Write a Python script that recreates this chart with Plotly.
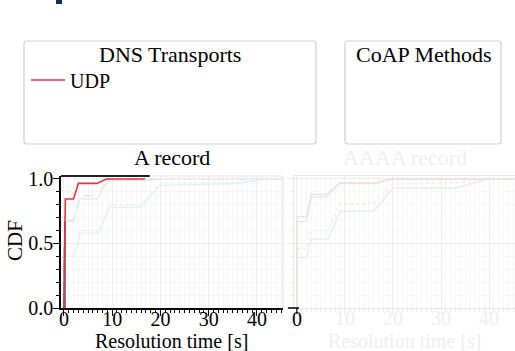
import plotly.graph_objects as go

W, H = 515, 351
FONT = "Liberation Serif"

# ---------------- data ----------------
# A record panel
udp_x = [0.0, 0.3, 2.0, 3.0, 6.9, 8.8, 16.8]
udp_y = [0.0, 0.845, 0.845, 0.966, 0.966, 1.0, 1.0]

a_grey_x = [0.2, 0.2, 2.0, 3.3, 6.9, 9.0, 18.0, 21.0, 45.4]
a_grey_y = [0.0, 0.67, 0.67, 0.845, 0.845, 0.985, 0.99, 1.0, 1.0]
a_greyd_x = [0.2, 0.2, 2.0, 3.3, 6.9, 9.0, 18.0, 21.0, 45.4]
a_greyd_y = [0.0, 0.68, 0.68, 0.87, 0.87, 0.99, 0.995, 1.0, 1.0]
a_cyan1_x = [0.2, 0.2, 2.1, 3.4, 7.2, 9.5, 15.8, 19.9, 36.0, 42.0, 45.4]
a_cyan1_y = [0.0, 0.42, 0.42, 0.6, 0.6, 0.8, 0.8, 0.96, 0.975, 1.0, 1.0]
a_cyan2_x = [0.2, 0.2, 2.1, 3.4, 7.2, 9.5, 15.8, 19.9, 36.0, 42.0, 45.4]
a_cyan2_y = [0.0, 0.4, 0.4, 0.58, 0.58, 0.78, 0.78, 0.95, 0.965, 1.0, 1.0]

fast_heights = [0.67, 0.48, 0.42, 0.2, 0.06]
fast_colors = ["#3a2470", "#3b7dc4", "#8cc9a0", "#59b7b0", "#2f6fb5"]
fast_x = [0.2, 0.12, 0.1, 0.08, 0.05]

# AAAA record panel (faded)
b_pink_x = [0.0, 0.0, 2.0, 3.0, 6.1, 8.9, 16.4, 19.2, 45.4]
b_pink_y = [0.0, 0.71, 0.71, 0.88, 0.88, 0.97, 0.97, 1.0, 1.0]
b_grey_x = [0.0, 0.0, 2.0, 3.0, 6.1, 8.9, 16.4, 19.2, 45.4]
b_grey_y = [0.0, 0.67, 0.67, 0.86, 0.86, 0.965, 0.965, 0.995, 1.0]
b_orng_x = [0.0, 0.0, 2.0, 3.0, 6.5, 9.0, 16.0, 20.0, 33.0, 40.0, 45.4]
b_orng_y = [0.0, 0.46, 0.46, 0.6, 0.6, 0.81, 0.81, 0.96, 0.97, 1.0, 1.0]
b_blue_x = [0.0, 0.0, 2.0, 3.0, 6.5, 9.0, 16.0, 20.0, 33.0, 40.0, 45.4]
b_blue_y = [0.0, 0.39, 0.39, 0.536, 0.536, 0.75, 0.75, 0.93, 0.93, 1.0, 1.0]

x_ticks = [0, 10, 20, 30, 40]
x_ticktext = ["0", "10", "20", "30", "40"]
x2_ticktext = ["", "10", "20", "30", "40"]
y_ticks = [0.0, 0.5, 1.0]
y_ticktext = ["0.0", "0.5", "1.0"]

X_RANGE = [-0.6, 45.4]
Y_RANGE = [0.0, 1.023]


def px(x):
    return x / W


def py(y):
    return 1 - y / H


fig = go.Figure()

# faded series, A record
fig.add_trace(go.Scatter(x=a_cyan2_x, y=a_cyan2_y, mode="lines", line=dict(color="#e3eff3", width=1.3), xaxis="x", yaxis="y"))
fig.add_trace(go.Scatter(x=a_cyan1_x, y=a_cyan1_y, mode="lines", line=dict(color="#e6f1f3", width=1.3, dash="dot"), xaxis="x", yaxis="y"))
fig.add_trace(go.Scatter(x=a_greyd_x, y=a_greyd_y, mode="lines", line=dict(color="#e4e4e4", width=1.3, dash="dash"), xaxis="x", yaxis="y"))
fig.add_trace(go.Scatter(x=a_grey_x, y=a_grey_y, mode="lines", line=dict(color="#e8e8e8", width=1.3), xaxis="x", yaxis="y"))

# fast (near zero) series
for fx, h, c in zip(fast_x, fast_heights, fast_colors):
    fig.add_trace(go.Scatter(x=[fx, fx], y=[0, h], mode="lines", line=dict(color=c, width=1.5), xaxis="x", yaxis="y"))

# UDP
fig.add_trace(go.Scatter(x=udp_x, y=udp_y, mode="lines", line=dict(color="#e8323c", width=1.6), xaxis="x", yaxis="y"))

# AAAA record faded series
fig.add_trace(go.Scatter(x=b_blue_x, y=b_blue_y, mode="lines", line=dict(color="#e2ecf4", width=1.3), xaxis="x2", yaxis="y2"))
fig.add_trace(go.Scatter(x=b_orng_x, y=b_orng_y, mode="lines", line=dict(color="#f6e8da", width=1.3, dash="dot"), xaxis="x2", yaxis="y2"))
fig.add_trace(go.Scatter(x=b_grey_x, y=b_grey_y, mode="lines", line=dict(color="#e6e6e6", width=1.3), xaxis="x2", yaxis="y2"))
fig.add_trace(go.Scatter(x=b_pink_x, y=b_pink_y, mode="lines", line=dict(color="#f2dddd", width=1.3), xaxis="x2", yaxis="y2"))

tick_font = dict(family=FONT, size=20, color="black")
faint_font = dict(family=FONT, size=20, color="#eeeeee")

common_x = dict(
    range=X_RANGE, tickvals=x_ticks, ticks="outside", ticklen=6, tickwidth=1.2,
    showgrid=True, gridcolor="#ececec", gridwidth=1, zeroline=False, automargin=False,
    ticklabelstandoff=-14,
)
common_y = dict(
    range=Y_RANGE, tickvals=y_ticks, ticktext=y_ticktext, ticks="outside", ticklen=6, tickwidth=1.2,
    showgrid=True, gridcolor="#ececec", gridwidth=1, zeroline=False, automargin=False,
    ticklabelstandoff=-4,
)

y_dom = [py(308), py(176)]

fig.update_layout(
    width=W, height=H, margin=dict(l=0, r=0, t=0, b=0, pad=0), autosize=False,
    paper_bgcolor="white", plot_bgcolor="white", showlegend=False,
    xaxis=dict(domain=[px(61), px(283)], anchor="y", tickfont=tick_font, tickcolor="black",
               ticktext=x_ticktext, showline=True, linecolor="black", linewidth=1.5,
               minor=dict(dtick=1, ticks="outside", ticklen=3, tickcolor="black", showgrid=True, gridcolor="#f5f5f5"),
               **common_x),
    yaxis=dict(domain=y_dom, anchor="x", tickfont=tick_font, tickcolor="black",
               showline=True, linecolor="black", linewidth=1.5,
               minor=dict(dtick=0.1, ticks="outside", ticklen=3, tickcolor="black", showgrid=True, gridcolor="#f5f5f5"),
               **common_y),
    xaxis2=dict(domain=[px(294), 1.0], anchor="y2", tickfont=faint_font, tickcolor="#e8e8e8",
                ticktext=x2_ticktext, showline=True, linecolor="#e6e6e6", linewidth=1.2, mirror=True,
                minor=dict(dtick=1, ticks="outside", ticklen=3, tickcolor="#e8e8e8", showgrid=True, gridcolor="#f7f7f7"),
                **common_x),
    yaxis2=dict(domain=y_dom, anchor="x2", showticklabels=False, tickcolor="#e8e8e8",
                showline=True, linecolor="#e6e6e6", linewidth=1.2, mirror=True,
                minor=dict(dtick=0.1, ticks="outside", ticklen=3, tickcolor="#e8e8e8", showgrid=True, gridcolor="#f7f7f7"),
                **common_y),
)


def rounded_box(x0, y0, x1, y1, r=3):
    X0, X1 = px(x0), px(x1)
    Y0, Y1 = py(y0), py(y1)
    rx, ry = r / W, r / H
    path = (f"M {X0+rx},{Y0} L {X1-rx},{Y0} Q {X1},{Y0} {X1},{Y0-ry} "
            f"L {X1},{Y1+ry} Q {X1},{Y1} {X1-rx},{Y1} L {X0+rx},{Y1} "
            f"Q {X0},{Y1} {X0},{Y1+ry} L {X0},{Y0-ry} Q {X0},{Y0} {X0+rx},{Y0} Z")
    return dict(type="path", path=path, xref="paper", yref="paper",
                line=dict(color="#cfcfcf", width=1.2), fillcolor="rgba(0,0,0,0)")


shapes = [
    rounded_box(24, 41, 316, 144),
    rounded_box(345, 41, 501, 144),
    # legend sample line
    dict(type="line", xref="paper", yref="paper", x0=px(31), x1=px(65), y0=py(80), y1=py(80),
         line=dict(color="#e8323c", width=1.5)),
    # top-left dark square
    dict(type="rect", xref="paper", yref="paper", x0=px(56), x1=px(62), y0=py(0), y1=py(4),
         line=dict(width=0), fillcolor="#12325e"),
    # left panel top spine: black part and faint part
    dict(type="line", xref="x", yref="paper", x0=X_RANGE[0], x1=17.8, y0=py(176), y1=py(176),
         line=dict(color="#222222", width=2)),
    dict(type="line", xref="x", yref="paper", x0=17.8, x1=X_RANGE[1], y0=py(176), y1=py(176),
         line=dict(color="#e6e6e6", width=1.2)),
    dict(type="line", xref="paper", yref="y", x0=px(283), x1=px(283), y0=Y_RANGE[0], y1=Y_RANGE[1],
         line=dict(color="#e6e6e6", width=1.2)),
    # right panel black start of bottom axis and tick at 0
    dict(type="line", xref="paper", yref="paper", x0=px(288), x1=px(299), y0=py(308), y1=py(308),
         line=dict(color="black", width=1.5)),
    dict(type="line", xref="x2", yref="paper", x0=0, x1=0, y0=py(308), y1=py(314),
         line=dict(color="black", width=1.2)),
]


def label(text, x, y, size=21, color="black", xanchor="center", angle=0, xref="paper", height=None):
    d = dict(text=text, x=(x if xref != "paper" else px(x)), y=py(y), xref=xref, yref="paper",
             showarrow=False, xanchor=xanchor, yanchor="middle", textangle=angle,
             font=dict(family=FONT, size=size, color=color))
    if height is not None:
        d["height"] = height
    return d


annotations = [
    label("DNS Transports", 170, 55, size=22),
    label("CoAP Methods", 423, 55, size=22),
    label("UDP", 68, 81, size=20, xanchor="left"),
    label("A record", 172, 157, size=22),
    label("AAAA record", 405, 157, size=22, color="#eeeeee"),
    label("CDF", 15, 241, size=21, angle=-90),
    label("Resolution time [s]", 171, 340.5, size=20, height=20),
    label("Resolution time [s]", 404, 340.5, size=20, color="#eeeeee", height=20),
    label("0", 0, 319, size=20, xref="x2"),
]

fig.update_layout(shapes=shapes, annotations=annotations)
fig.write_html("out.html", config={"displayModeBar": False},
               post_script="document.body.style.margin='0';")
